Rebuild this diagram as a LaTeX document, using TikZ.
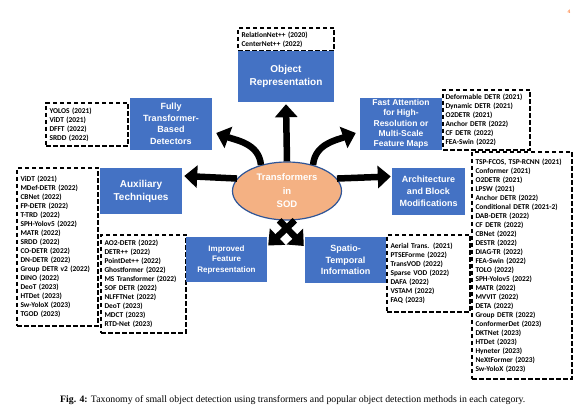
\documentclass[tikz,border=0pt]{standalone}
\usepackage{fontspec}
\setmainfont{Liberation Serif}
\newfontfamily\boxfont{Liberation Sans}
\newfontfamily\listfont{Carlito}
\usetikzlibrary{arrows.meta,shapes.geometric,calc}
\definecolor{boxblue}{HTML}{4472C4}
\definecolor{ellfill}{HTML}{F4B183}
\definecolor{ellline}{HTML}{2F5597}
\begin{document}
\begin{tikzpicture}[x=1pt,y=1pt,
  catbox/.style={fill=boxblue, text=white, align=center, inner sep=0pt},
  listbox/.style={draw=black, fill=white, line width=1.1pt, dash pattern=on 4.5pt off 2.5pt,
    font=\listfont\bfseries\fontsize{7.4}{9}\selectfont, align=left, inner xsep=3.5pt, inner ysep=0pt},
  bigarrow/.style={draw=black, line width=6.5pt, -{Triangle[width=22pt,length=13pt]}},
]
\useasboundingbox (0,0) rectangle (584,412);

% dashed lists
\node[listbox, minimum width=96pt, minimum height=23pt, text width=89pt] (objlist) at (286,372.5)
  {RelationNet++ (2020)\\CenterNet++ (2022)};
\node[listbox, minimum width=82pt, minimum height=43pt, text width=75pt] (fullylist) at (87,287.5)
  {YOLOS (2021)\\ViDT (2021)\\DFFT (2022)\\SRDD (2022)};
\node[listbox, minimum width=87pt, minimum height=60pt, inner xsep=2.5pt, text width=82pt] (fastlist) at (486.5,292)
  {Deformable DETR (2021)\\Dynamic DETR (2021)\\O2DETR (2021)\\Anchor DETR (2022)\\CF DETR (2022)\\FEA-Swin (2022)};
\node[listbox, minimum width=81pt, minimum height=158pt, text width=74pt] (auxlist) at (57.5,165)
  {ViDT (2021)\\MDef-DETR (2022)\\CBNet (2022)\\FP-DETR (2022)\\T-TRD (2022)\\SPH-Yolov5 (2022)\\MATR (2022)\\SRDD (2022)\\CO-DETR (2022)\\DN-DETR (2022)\\Group DETR v2 (2022)\\DINO (2022)\\DeoT (2023)\\HTDet (2023)\\Sw-YoloX (2023)\\TGOD (2023)};
\node[listbox, minimum width=85pt, minimum height=98pt, text width=78pt] (implist) at (143.5,128)
  {AO2-DETR (2022)\\DETR++ (2022)\\PointDet++ (2022)\\Ghostformer (2022)\\MS Transformer (2022)\\SOF DETR (2022)\\NLFFTNet (2022)\\DeoT (2023)\\MDCT (2023)\\RTD-Net (2023)};
\node[listbox, minimum width=83pt, minimum height=77pt, text width=76pt] (spalist) at (428.5,138.5)
  {Aerial Trans. (2021)\\PTSEForme (2022)\\TransVOD (2022)\\Sparse VOD (2022)\\DAFA (2022)\\VSTAM (2022)\\FAQ (2023)};
\node[listbox, minimum width=100pt, minimum height=227pt, text width=93pt] (archlist) at (522,146.5)
  {TSP-FCOS, TSP-RCNN (2021)\\Conformer (2021)\\O2DETR (2021)\\LPSW (2021)\\Anchor DETR (2022)\\Conditional DETR (2021-2)\\DAB-DETR (2022)\\CF DETR (2022)\\CBNet (2022)\\DESTR (2022)\\DIAG-TR (2022)\\FEA-Swin (2022)\\TOLO (2022)\\SPH-Yolov5 (2022)\\MATR (2022)\\MVVIT (2022)\\DETA (2022)\\Group DETR (2022)\\ConformerDet (2023)\\DKTNet (2023)\\HTDet (2023)\\Hyneter (2023)\\NeXtFormer (2023)\\Sw-YoloX (2023)};

% category boxes
\node[catbox, minimum width=96pt, minimum height=51pt, font=\boxfont\bfseries\fontsize{10}{13}\selectfont] (obj) at (286,335.5)
  {Object\\Representation};
\node[catbox, minimum width=82pt, minimum height=52pt, font=\boxfont\bfseries\fontsize{9}{11.5}\selectfont] (fully) at (171,288)
  {Fully\\Transformer-\\Based\\Detectors};
\node[catbox, minimum width=82pt, minimum height=52pt, font=\boxfont\bfseries\fontsize{8.5}{10.2}\selectfont] (fast) at (401,288)
  {Fast Attention\\for High-\\Resolution or\\Multi-Scale\\Feature Maps};
\node[catbox, minimum width=82pt, minimum height=46pt, font=\boxfont\bfseries\fontsize{10}{13}\selectfont] (aux) at (141,221)
  {Auxiliary\\Techniques};
\node[catbox, minimum width=73pt, minimum height=47pt, font=\boxfont\bfseries\fontsize{9}{12}\selectfont] (arch) at (428.5,220.5)
  {Architecture\\and Block\\Modifications};
\node[catbox, minimum width=81pt, minimum height=45pt, font=\boxfont\bfseries\fontsize{8}{10.5}\selectfont] (imp) at (226.5,152.5)
  {Improved\\Feature\\Representation};
\node[catbox, minimum width=81pt, minimum height=46pt, font=\boxfont\bfseries\fontsize{9}{11.7}\selectfont] (spa) at (345.5,152)
  {Spatio-\\Temporal\\Information};

% centre ellipse
\node[ellipse, draw=ellline, line width=1.2pt, fill=ellfill, text=white, align=center, inner sep=0pt,
  minimum width=109pt, minimum height=58pt, font=\boxfont\bfseries\fontsize{9.5}{13.5}\selectfont] (ell) at (287,221)
  {Transformers\\in\\SOD};

% arrows
\draw[bigarrow] (ell.north) -- ([yshift=-2pt]obj.south);
\draw[bigarrow] (ell.135) to[out=95,in=-20] ([shift={(4pt,-9pt)}]fully.east);
\draw[bigarrow] (ell.45) to[out=85,in=200] ([shift={(-4pt,-9pt)}]fast.west);
\draw[bigarrow] (ell.166) -- ([shift={(2pt,15pt)}]aux.east);
\draw[bigarrow] (ell.14) -- ([shift={(-1pt,15pt)}]arch.west);
\draw[bigarrow] (ell.-75) -- ([shift={(1pt,14pt)}]imp.east);
\draw[bigarrow] (ell.-105) -- ([shift={(-1pt,14pt)}]spa.west);

% caption and page number
\node[anchor=west, inner sep=0pt, font=\fontsize{9.8}{11}\selectfont] (cap) at (60,12)
  {\textbf{Fig. 4:} Taxonomy of small object detection using transformers and popular object detection methods in each category.};
\node[inner sep=0pt, text=orange!70!red, font=\boxfont\fontsize{5}{6}\selectfont] (pg) at (569,400) {4};
\end{tikzpicture}
\end{document}
